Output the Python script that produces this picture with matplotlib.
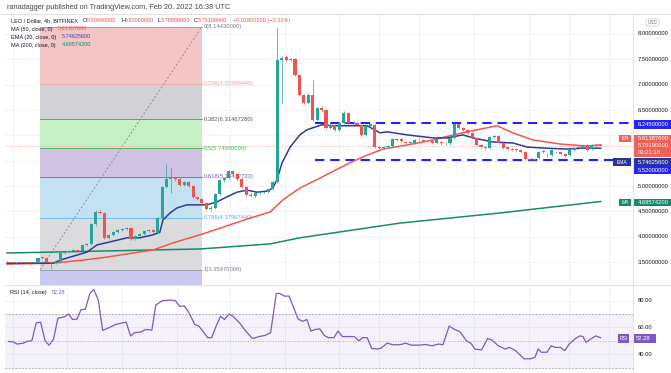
import matplotlib.pyplot as plt
from matplotlib.patches import Rectangle, FancyBboxPatch
from matplotlib.lines import Line2D
from matplotlib.transforms import blended_transform_factory

plt.rcParams['font.family'] = ['Liberation Sans', 'DejaVu Sans']

# ---- candles (LEO/USD, 4h) ----
opens = [3.50, 3.50, 3.49, 3.50, 3.49, 3.50, 3.49, 3.50, 3.58, 3.59,
         3.51, 3.49, 3.50, 3.69, 3.70, 3.72, 3.73, 3.71, 3.84, 3.85,
         4.25, 4.49, 4.46, 3.98, 4.04, 4.10, 4.13, 4.16, 4.17, 3.96,
         4.02, 4.05, 4.12, 4.13, 4.08, 4.37, 4.98, 5.14, 5.15, 5.14,
         5.02, 5.09, 5.00, 4.79, 4.75, 4.67, 4.55, 4.56, 4.85, 5.12,
         5.15, 5.30, 5.24, 5.13, 4.98, 4.83, 4.81, 4.86, 4.88, 4.89,
         4.94, 5.08, 7.49, 7.55, 7.49, 7.51, 7.19, 6.80, 6.64, 6.80,
         6.30, 6.54, 6.50, 6.15, 6.21, 6.11, 6.25, 6.44, 6.25, 6.24,
         6.21, 6.01, 6.19, 6.21, 5.77, 5.76, 5.78, 5.79, 5.90, 5.93,
         5.86, 5.85, 5.85, 5.91, 5.90, 5.89, 5.88, 5.85, 5.87, 5.85,
         5.84, 5.95, 6.23, 6.15, 6.11, 6.05, 5.95, 5.81, 5.77, 5.75,
         5.97, 5.98, 5.85, 5.78, 5.74, 5.71, 5.72, 5.67, 5.53, 5.52,
         5.55, 5.67, 5.62, 5.61, 5.68, 5.67, 5.63, 5.61, 5.71, 5.75,
         5.77, 5.81, 5.73, 5.81, 5.8089]
highs = [3.52, 3.51, 3.51, 3.52, 3.51, 3.51, 3.51, 3.59, 3.61, 3.60,
         3.52, 3.52, 3.70, 3.72, 3.74, 3.75, 3.74, 3.86, 3.87, 4.27,
         4.52, 4.53, 4.48, 4.06, 4.12, 4.15, 4.18, 4.19, 4.19, 4.04,
         4.07, 4.14, 4.15, 4.15, 4.39, 5.00, 5.43, 5.38, 5.18, 5.16,
         5.11, 5.11, 5.02, 4.81, 4.77, 4.69, 4.60, 4.87, 5.14, 5.17,
         5.32, 5.32, 5.26, 5.15, 5.00, 4.86, 4.88, 4.90, 4.91, 4.96,
         5.10, 8.1443, 7.56, 7.58, 7.53, 7.53, 7.21, 6.82, 6.84, 7.09,
         6.56, 6.58, 6.52, 6.23, 6.23, 6.27, 6.48, 6.46, 6.27, 6.26,
         6.23, 6.21, 6.24, 6.23, 5.79, 5.80, 5.81, 5.95, 5.95, 5.95,
         5.87, 5.88, 5.93, 5.92, 5.92, 5.91, 5.90, 5.95, 5.89, 5.87,
         5.97, 6.25, 6.25, 6.17, 6.13, 6.07, 5.97, 5.83, 5.79, 5.99,
         6.00, 6.00, 5.87, 5.80, 5.76, 5.74, 5.74, 5.69, 5.55, 5.55,
         5.69, 5.71, 5.65, 5.73, 5.70, 5.69, 5.65, 5.73, 5.77, 5.80,
         5.82, 5.83, 5.83, 5.83, 5.8206]
lows = [3.48, 3.48, 3.47, 3.48, 3.48, 3.47, 3.48, 3.48, 3.56, 3.50,
        3.355, 3.47, 3.48, 3.67, 3.69, 3.71, 3.70, 3.70, 3.82, 3.84,
        4.22, 4.44, 3.96, 3.96, 4.02, 4.08, 4.11, 4.14, 3.94, 3.94,
        4.00, 4.03, 4.10, 4.07, 4.06, 4.35, 4.96, 4.86, 5.10, 5.00,
        5.00, 4.98, 4.77, 4.72, 4.65, 4.52, 4.50, 4.54, 4.83, 5.08,
        5.13, 5.20, 5.10, 4.96, 4.81, 4.79, 4.79, 4.84, 4.86, 4.87,
        4.92, 5.06, 6.64, 7.46, 7.47, 7.17, 6.78, 6.62, 6.62, 6.28,
        6.28, 6.46, 6.13, 6.12, 6.09, 6.09, 6.23, 6.22, 6.21, 6.18,
        5.99, 5.99, 6.17, 5.75, 5.74, 5.74, 5.76, 5.77, 5.88, 5.86,
        5.83, 5.83, 5.83, 5.88, 5.87, 5.86, 5.83, 5.83, 5.82, 5.82,
        5.82, 5.93, 6.13, 6.09, 6.03, 5.93, 5.79, 5.75, 5.73, 5.73,
        5.95, 5.83, 5.73, 5.72, 5.69, 5.69, 5.65, 5.51, 5.50, 5.50,
        5.53, 5.65, 5.57, 5.59, 5.65, 5.61, 5.57, 5.59, 5.69, 5.74,
        5.76, 5.69, 5.71, 5.78, 5.7888]
closes = [3.50, 3.49, 3.50, 3.49, 3.50, 3.49, 3.50, 3.58, 3.59, 3.51,
          3.49, 3.50, 3.69, 3.70, 3.72, 3.73, 3.72, 3.84, 3.85, 4.25,
          4.49, 4.47, 3.98, 4.04, 4.10, 4.13, 4.16, 4.17, 3.96, 4.02,
          4.05, 4.12, 4.13, 4.09, 4.37, 4.98, 5.14, 5.15, 5.14, 5.02,
          5.09, 5.00, 4.79, 4.75, 4.67, 4.55, 4.57, 4.85, 5.12, 5.15,
          5.30, 5.24, 5.13, 4.98, 4.83, 4.81, 4.86, 4.88, 4.89, 4.94,
          5.08, 7.49, 7.53, 7.49, 7.51, 7.19, 6.80, 6.64, 6.80, 6.30,
          6.54, 6.50, 6.15, 6.21, 6.11, 6.25, 6.44, 6.25, 6.24, 6.21,
          6.01, 6.19, 6.22, 5.77, 5.76, 5.78, 5.79, 5.93, 5.93, 5.88,
          5.85, 5.86, 5.91, 5.90, 5.89, 5.88, 5.85, 5.93, 5.85, 5.84,
          5.95, 6.23, 6.15, 6.11, 6.05, 5.95, 5.81, 5.77, 5.75, 5.97,
          5.98, 5.85, 5.75, 5.74, 5.71, 5.72, 5.67, 5.53, 5.52, 5.53,
          5.67, 5.69, 5.61, 5.71, 5.67, 5.63, 5.59, 5.71, 5.75, 5.77,
          5.79, 5.71, 5.81, 5.80, 5.7919]

# ---- moving averages (candle index / price) ----
ema20_t = [0, 10.4, 12.0, 15.8, 18.1, 20.3, 23.3, 27.1, 30.0, 33.0, 34.5, 35.2,
           36.8, 38.4, 40.6, 42.9, 45.1, 47.4, 49.7, 51.9, 54.2, 56.4, 58.7,
           60.0, 60.9, 62.1, 63.9, 66.1, 67.7, 71.1, 73.6, 76.7, 81.3, 84.2,
           85.8, 90.3, 96.2, 99.3, 102.9, 105.2, 109.7, 114.2, 117.4, 121.0,
           126.4, 130.0, 134]
ema20_v = [3.48, 3.48, 3.54, 3.64, 3.70, 3.84, 3.90, 3.98, 3.98, 4.04, 4.09, 4.33,
           4.47, 4.57, 4.63, 4.63, 4.63, 4.69, 4.79, 4.88, 4.92, 4.88, 4.90,
           4.96, 5.12, 5.46, 5.77, 6.01, 6.11, 6.21, 6.19, 6.19, 6.19, 6.05,
           6.07, 6.01, 5.95, 5.95, 6.01, 5.95, 5.87, 5.85, 5.77, 5.75,
           5.73, 5.75, 5.746]
ma50_t = [0, 10.4, 17.2, 22.6, 28.4, 33.0, 37.5, 43.6, 48.1, 54.9, 59.4, 62.3,
          66.1, 70.7, 77.4, 81.3, 84.9, 90.3, 96.2, 100.7, 106.1, 110.6, 114.2,
          118.7, 124.8, 130.9, 134]
ma50_v = [3.46, 3.48, 3.54, 3.60, 3.68, 3.74, 3.88, 4.04, 4.17, 4.37, 4.49, 4.73,
          4.96, 5.16, 5.46, 5.61, 5.73, 5.81, 5.91, 6.01, 6.11, 6.19, 6.05,
          5.91, 5.83, 5.79, 5.814]
ma200_t = [0, 43.6, 59.4, 66.1, 88.7, 111.3, 134]
ma200_v = [3.68, 3.76, 3.86, 3.98, 4.27, 4.47, 4.696]

# ---- RSI(14) ----
rsi_t = [0.4, 1.3, 2.3, 3.7, 4.7, 5.6, 6.6, 7.6, 8.6, 9.5, 10.5, 11.5, 12.9, 13.9,
         14.8, 15.8, 16.7, 17.7, 18.7, 19.6, 20.6, 21.6, 23.0, 24.5, 26.0, 26.9,
         27.9, 28.8, 30.2, 31.3, 32.7, 33.6, 35.1, 37.0, 38.0, 39.0, 40.0, 40.9,
         42.4, 43.3, 44.2, 45.3, 46.2, 47.2, 48.2, 49.1, 50.1, 51.0, 52.5, 53.9,
         55.4, 56.9, 58.3, 59.5, 60.8, 61.6, 62.6, 63.7, 64.6, 65.7, 66.7, 67.7,
         68.6, 69.6, 70.6, 71.6, 72.5, 73.8, 74.7, 75.7, 77.1, 78.4, 79.4, 80.3,
         81.3, 82.3, 83.4, 84.4, 85.8, 87.1, 88.7, 90.0, 91.2, 93.0, 94.5, 95.9,
         97.4, 98.4, 99.8, 100.8, 102.3, 103.7, 104.7, 105.6, 107.1, 108.5, 109.5,
         110.9, 112.4, 113.4, 114.8, 116.7, 118.2, 119.2, 119.9, 120.6, 121.9,
         122.8, 123.8, 124.9, 125.9, 126.9, 128.3, 129.3, 130.0, 130.7, 131.7,
         132.9, 134]
rsi_v = [49.5, 49.3, 47.6, 48.3, 49.8, 50.0, 63.4, 63.9, 50.0, 46.8, 51.2, 67.0, 67.8,
         70.0, 65.9, 66.3, 73.2, 73.7, 85.4, 88.3, 80.5, 57.8, 59.8, 62.2, 63.4, 63.9,
         53.7, 56.1, 56.6, 58.5, 58.0, 76.8, 80.0, 80.5, 80.0, 75.6, 76.1, 72.0,
         62.2, 61.0, 57.3, 52.4, 52.4, 61.0, 68.3, 65.9, 70.0, 68.3, 63.4, 57.3,
         51.7, 53.2, 54.1, 56.1, 85.4, 85.4, 83.4, 83.4, 75.6, 66.3, 64.6, 65.9,
         57.3, 58.5, 59.0, 54.1, 52.4, 52.4, 57.3, 53.2, 53.2, 53.2, 50.0, 52.4,
         52.4, 44.4, 43.9, 44.4, 48.3, 47.1, 47.1, 48.3, 46.8, 46.8, 47.3, 46.3,
         47.6, 47.1, 61.0, 59.0, 56.6, 50.0, 48.3, 43.9, 43.2, 51.7, 50.5,
         46.3, 43.9, 45.1, 42.7, 36.6, 36.6, 37.8, 43.9, 41.5, 41.5,
         46.3, 45.1, 45.1, 42.7, 47.6, 51.7, 53.7, 53.2, 48.8, 51.2,
         53.7, 52.28]

# ---- drawings ----
fib_low, fib_high = 3.3547, 8.1443
fib_ratios = [0, 0.236, 0.382, 0.5, 0.618, 0.786, 1]
fib_fills = ['#f4c5c5', '#d1d1d6', '#c6efc6', '#d1c3e4', '#c4e1f2', '#dbdbdd']
fib_lines = ['#9598a1', '#f7a3a3', '#787b86', '#4caf50', '#7e57c2', '#64b5f6', '#9598a1']
fib_text = ['#787b86', '#f59a9a', '#555555', '#43b943', '#7e57c2', '#5aaee8', '#787b86']
fib_t0, fib_t1 = 7.5, 44.0
zone_top, zone_bottom = 6.245, 5.52
zone_start = 69.5
last_price = 5.7919
grid_t = [1.4, 13.5, 26, 38.4, 50.3, 62.8, 75, 84, 93, 105.4, 117.8, 126.9, 135.9]

W, H = 671, 373
fig = plt.figure(figsize=(W / 100, H / 100), dpi=100)


def fx(x):
    return x / W


def fy(y):
    return 1 - y / H


ax = fig.add_axes([fx(5), fy(284), fx(633) - fx(5), fy(14) - fy(284)])
rx = fig.add_axes([fx(5), 0, fx(633) - fx(5), fy(285)])
for a in (ax, rx):
    a.set_xlim(-0.45, 141.3)
    a.set_xticks([])
    a.set_yticks([])
    for s in a.spines.values():
        s.set_visible(False)
ax.set_ylim(3.069, 8.394)
rx.set_ylim(26.0, 91.7)

# grid
for t in grid_t:
    ax.axvline(t, color='#f0f2f6', lw=0.7, zorder=0)
    rx.axvline(t, color='#f0f2f6', lw=0.7, zorder=0)
for p in [3.5, 4.0, 4.5, 5.0, 5.5, 6.0, 6.5, 7.0, 7.5, 8.0]:
    ax.axhline(p, color='#f0f2f6', lw=0.7, zorder=0)
for r in [40, 60, 80]:
    rx.axhline(r, color='#f0f2f6', lw=0.7, zorder=0)

# fibonacci retracement
fib_levels = [fib_high - r * (fib_high - fib_low) for r in fib_ratios]
for i in range(len(fib_fills)):
    ax.fill_between([fib_t0, fib_t1], fib_levels[i + 1], fib_levels[i],
                    color=fib_fills[i], lw=0, zorder=1)
ax.fill_between([fib_t0, fib_t1], 2.0, fib_low, color='#c8c8f1', lw=0, zorder=1)
for r, lv, lc, tc in zip(fib_ratios, fib_levels, fib_lines, fib_text):
    ax.plot([fib_t0, fib_t1], [lv, lv], color=lc, lw=0.6, zorder=1.5)
    ax.text(fib_t1 + 0.4, lv, f"{r:g}({lv:.8f})", color=tc, fontsize=4.2,
            va='center', ha='left', zorder=2)
ax.plot([fib_t0, fib_t1], [fib_low, fib_high], color='#8a8d96', lw=0.7,
        ls=(0, (2, 2)), zorder=1.6)

# support / resistance
for lv in (zone_top, zone_bottom):
    ax.plot([zone_start, 141.3], [lv, lv], color='#2323ff', lw=1.5,
            ls=(0, (4.5, 2.8)), zorder=2.5)
ax.axhline(last_price, color='#f5a0a0', lw=0.6, ls=(0, (1, 1.5)), zorder=1.7)

# moving averages
ax.plot(ma200_t, ma200_v, color='#1a8a6c', lw=1.1, zorder=2.6)
ax.plot(ma50_t, ma50_v, color='#f3564e', lw=1.1, zorder=2.7)
ax.plot(ema20_t, ema20_v, color='#2c3c9c', lw=1.1, zorder=2.8)

# candles
idx = list(range(len(closes)))
cols = ['#26a69a' if c >= o else '#ef5350' for o, c in zip(opens, closes)]
ax.vlines(idx, lows, highs, colors=cols, lw=0.5, zorder=3)
ax.bar(idx, [max(abs(c - o), 0.012) for o, c in zip(opens, closes)],
       bottom=[min(o, c) for o, c in zip(opens, closes)], width=0.7,
       color=cols, lw=0, zorder=3.1)

# RSI pane
rx.axhspan(30, 70, color='#7e57c2', alpha=0.08, lw=0, zorder=0.5)
for r, st in ((70, (0, (2, 2))), (30, (0, (2, 2))), (50, (0, (1, 2)))):
    rx.axhline(r, color='#9598a1', lw=0.6, ls=st, zorder=1)
rx.plot(rsi_t, rsi_v, color='#7e57c2', lw=0.9, zorder=3)

# frame lines
line_c = '#e0e3eb'
fig.add_artist(Line2D([0, 1], [fy(14), fy(14)], color=line_c, lw=0.8))
fig.add_artist(Line2D([fx(5), 1], [fy(284.5), fy(284.5)], color=line_c, lw=0.8))
fig.add_artist(Line2D([fx(633), fx(633)], [0, fy(14)], color=line_c, lw=0.8))

# right price axis
tr = blended_transform_factory(fig.transFigure, ax.transData)
for p in [8.0, 7.5, 7.0, 6.5, 5.0, 4.5, 4.0, 3.5]:
    fig.text(fx(638), 0, f"{p:.8f}", transform=tr, fontsize=4.2,
             color='#131722', va='center').set_y(p)
trr = blended_transform_factory(fig.transFigure, rx.transData)
for r in [80, 60, 40]:
    fig.text(fx(638), 0, f"{r:.2f}", transform=trr, fontsize=4.2,
             color='#131722', va='center').set_y(r)


def box(x0, x1, y0, y1, color):
    fig.add_artist(Rectangle((fx(x0), fy(y1)), fx(x1) - fx(x0), fy(y0) - fy(y1),
                             transform=fig.transFigure, color=color, lw=0))


def btext(x, y, s, color='white', size=4.2, ha='left'):
    fig.text(fx(x), fy(y), s, fontsize=size, color=color, va='center', ha=ha)


box(633, 671, 119.5, 128.5, '#2424f5')
btext(638, 124, '6.24500000')
box(619, 631, 134.5, 142, '#f2605a')
btext(625, 138.2, 'MA', size=3.6, ha='center')
box(633, 671, 134.5, 157, '#f2605a')
btext(638, 138.2, '5.81387600')
btext(638, 145.2, '5.79190000')
btext(638, 152.2, '03:21:18')
box(613, 631, 158, 166, '#283593')
btext(622, 162, 'EMA', size=3.6, ha='center')
box(633, 671, 158, 166, '#283593')
btext(638, 162, '5.74625600')
box(633, 671, 166, 174, '#2424f5')
btext(638, 170, '5.52000000')
box(619, 631, 198.5, 206, '#138a6e')
btext(625, 202.2, 'MA', size=3.6, ha='center')
box(633, 671, 198.5, 206, '#138a6e')
btext(638, 202.2, '4.69574200')
box(618, 629, 334, 343, '#7e57c2')
btext(623.5, 338.5, 'RSI', size=3.6, ha='center')
box(633, 656, 334, 343, '#7e57c2')
btext(636, 338.5, '52.28')
fig.add_artist(FancyBboxPatch((fx(646), fy(26)), fx(13), fy(19) - fy(26),
                              boxstyle='round,pad=0,rounding_size=0.004',
                              transform=fig.transFigure, fc='white',
                              ec='#c8cad0', lw=0.5))
btext(652.5, 22.5, 'USD', color='#787b86', size=3.4, ha='center')

# header / legend texts
dark = '#131722'
btext(7, 7.5, 'ranadagger published on TradingView.com, Feb 20, 2022 16:38 UTC',
      color='#434651', size=5.3)
btext(11, 20.8, 'LEO / Dollar, 4h, BITFINEX', color=dark, size=4.0)
for x, lab, val in ((83, 'O', '5.80890000'), (121, 'H', '5.82060000'),
                    (157, 'L', '5.78880000'), (194, 'C', '5.79190000')):
    btext(x, 20.8, lab, color=dark, size=4.0)
    btext(x + 3.6, 20.8, val, color='#ef5350', size=4.0)
btext(233, 20.8, '\u22120.01800000 (\u22120.31%)', color='#ef5350', size=4.0)
btext(11, 29, 'MA (50, close, 0)', color=dark, size=4.0)
btext(58, 29, '5.81387600', color='#ef5350', size=4.0)
btext(11, 37, 'EMA (20, close, 0)', color=dark, size=4.0)
btext(62, 37, '5.74625600', color='#3949ab', size=4.0)
btext(11, 45, 'MA (200, close, 0)', color=dark, size=4.0)
btext(62, 45, '4.69574200', color='#138a6e', size=4.0)
btext(10, 292.5, 'RSI (14, close)', color=dark, size=4.0)
btext(52, 292.5, '52.28', color='#7e57c2', size=4.0)

fig.savefig('out.png', dpi=100)
